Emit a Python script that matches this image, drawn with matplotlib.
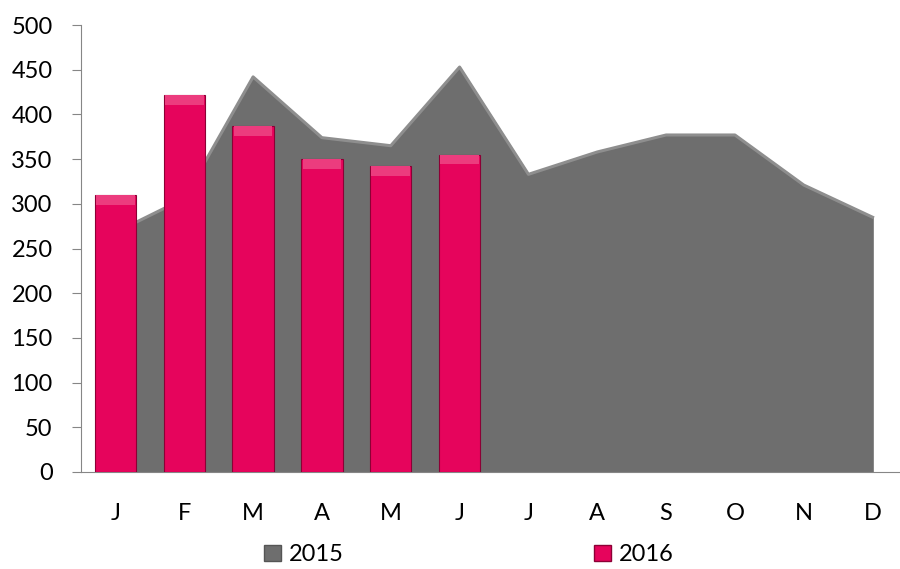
import numpy as np
import matplotlib.pyplot as plt
from matplotlib.patches import Patch

# Données
mois = ['J', 'F', 'M', 'A', 'M', 'J', 'J', 'A', 'S', 'O', 'N', 'D']
ventes_2015 = [268, 306, 442, 374, 365, 453, 333, 358, 377, 377, 321, 285]
ventes_2016 = [310, 422, 387, 350, 342, 355]

plt.rcParams['font.family'] = ['Lato', 'DejaVu Sans']

fig = plt.figure(figsize=(9, 5.69), dpi=100)
ax = fig.add_axes([0.09, 0.1705, 0.9178, 0.7855])

x = np.arange(len(mois))
ax.fill_between(x, ventes_2015, color='#6E6E6E', zorder=1)
ax.plot(x, ventes_2015, color='#8E8E8E', lw=2.2, zorder=2)

x16 = np.arange(len(ventes_2016))
ax.bar(x16, ventes_2016, width=0.6, color='#E6045C', edgecolor='#8C0035',
       linewidth=0.8, zorder=3)
# reflet clair en haut des barres
haut = 11
ax.bar(x16, [haut] * len(ventes_2016), bottom=np.array(ventes_2016) - haut,
       width=0.56, color='#EC3C7E', linewidth=0, zorder=4)

ax.set_xlim(-0.5, 11.5)
ax.set_ylim(0, 500)
ax.set_yticks(np.arange(0, 501, 50))
ax.set_xticks(x)
ax.set_xticklabels(mois)

for s in ['top', 'right']:
    ax.spines[s].set_visible(False)
ax.spines['left'].set_color('#868686')
ax.spines['bottom'].set_color('#868686')
ax.tick_params(axis='y', length=6.5, color='#868686', pad=14, labelsize=17)
ax.tick_params(axis='x', length=0, pad=22, labelsize=17)

handles = [Patch(facecolor='#6E6E6E', edgecolor='#555555'),
           Patch(facecolor='#E6045C', edgecolor='#8C0035')]
fig.legend(handles, ['2015', '2016'], loc='center', bbox_to_anchor=(0.521, 0.025),
           ncol=2, frameon=False, fontsize=17, columnspacing=10.6,
           handlelength=0.7, handleheight=0.7, handletextpad=0.35)

fig.savefig('out.png', dpi=100)
